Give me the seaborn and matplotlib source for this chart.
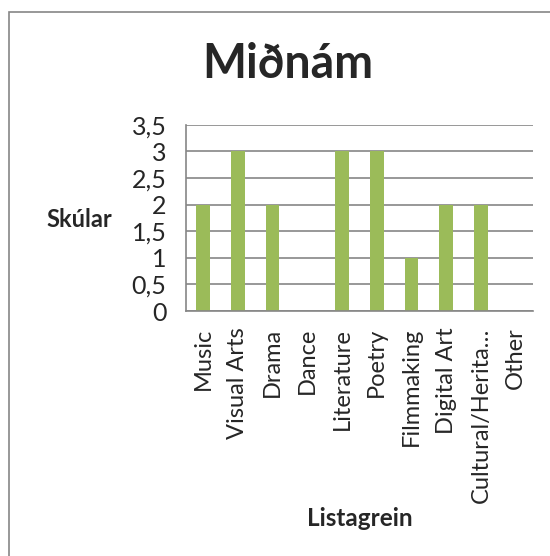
import matplotlib
matplotlib.use("Agg")
import matplotlib.pyplot as plt
import seaborn as sns
import pandas as pd
from matplotlib.ticker import FuncFormatter, FixedLocator
from matplotlib.patches import Rectangle

categories = ["Music", "Visual Arts", "Drama", "Dance", "Literature", "Poetry",
              "Filmmaking", "Digital Art", "Cultural/Herita…", "Other"]
schools = [2, 3, 2, 0, 3, 3, 1, 2, 2, 0]
y_ticks = [0, 0.5, 1, 1.5, 2, 2.5, 3, 3.5]

sns.set_style("white")
plt.rcParams['font.family'] = ['Lato', 'DejaVu Sans']

GREEN = "#9BBB59"
GRID = "#868686"

df = pd.DataFrame({"Listagrein": categories, "Skúlar": schools})

fig = plt.figure(figsize=(5.5, 5.56), dpi=100)
ax = fig.add_axes([0.338, 0.4406, 0.631, 0.335])

sns.barplot(data=df, x="Listagrein", y="Skúlar", color=GREEN, width=0.39,
            saturation=1, linewidth=0, ax=ax)

ax.set_ylim(0, 3.5)
ax.set_xlim(-0.5, len(categories) - 0.5)
ax.set_yticks(y_ticks)
ax.yaxis.set_major_formatter(FuncFormatter(lambda v, p: f"{v:g}".replace(".", ",")))
ax.grid(axis="y", color=GRID, linewidth=1.2)
ax.set_axisbelow(True)

for s in ["top", "right"]:
    ax.spines[s].set_visible(False)
for s in ["left", "bottom"]:
    ax.spines[s].set_color(GRID)
    ax.spines[s].set_linewidth(1.2)

ax.tick_params(axis="y", length=6, color=GRID, width=1.2, labelsize=18, pad=8)
ax.tick_params(axis="x", which="major", length=0, labelsize=17, pad=12)
ax.xaxis.set_minor_locator(FixedLocator([i - 0.5 for i in range(len(categories) + 1)]))
ax.tick_params(axis="x", which="minor", length=6, color=GRID, width=1.2)
for lbl in ax.get_xticklabels():
    lbl.set_rotation(90)
    lbl.set_va("top")
    lbl.set_ha("center")

ax.set_xlabel("")
ax.set_ylabel("")

fig.text(0.524, 0.885, "Miðnám", ha="center", va="center", fontsize=33.5, fontweight="bold")
fig.text(0.145, 0.606, "Skúlar", ha="center", va="center", fontsize=17, fontweight="bold")
fig.text(0.654, 0.068, "Listagrein", ha="center", va="center", fontsize=17.5, fontweight="bold")

fig.patches.append(Rectangle((9 / 550, -0.05), 1.1, (556 - 12) / 556 + 0.05,
                             transform=fig.transFigure, fill=False,
                             edgecolor="#868686", linewidth=1.2))

fig.savefig("out.png", dpi=100)
